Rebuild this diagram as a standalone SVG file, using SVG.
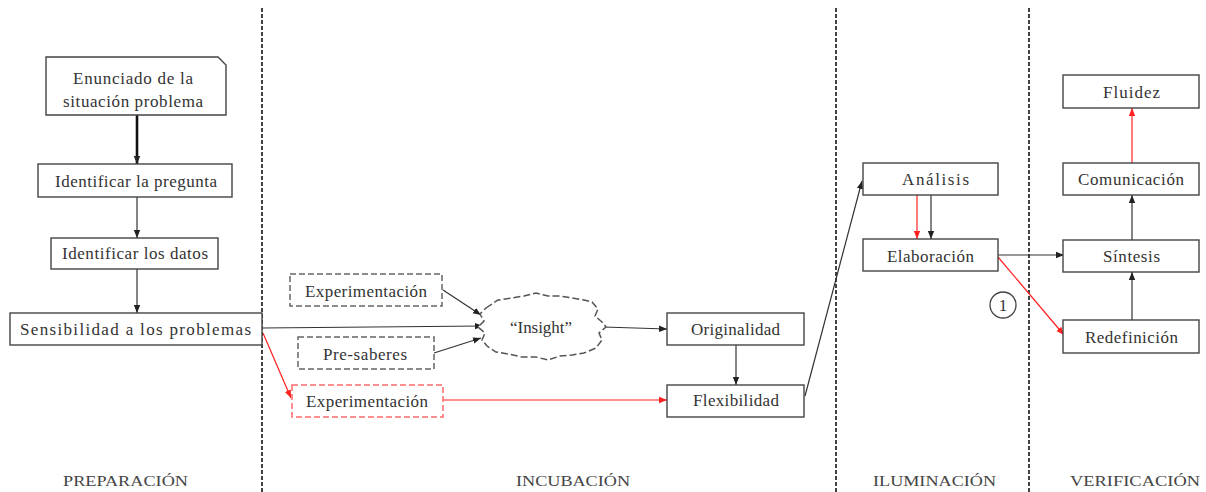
<svg xmlns="http://www.w3.org/2000/svg" width="1206" height="492" viewBox="0 0 1206 492">
  <defs>
    <marker id="ah" markerUnits="userSpaceOnUse" markerWidth="8" markerHeight="8" viewBox="0 0 8 8" refX="8" refY="4" orient="auto">
      <path d="M0,0.8 L8,4 L0,7.2 Z" fill="#222"/>
    </marker>
    <marker id="ahr" markerUnits="userSpaceOnUse" markerWidth="8" markerHeight="8" viewBox="0 0 8 8" refX="8" refY="4" orient="auto">
      <path d="M0,0.8 L8,4 L0,7.2 Z" fill="#ff2020"/>
    </marker>
  </defs>
  <style>
    .box { fill: #fff; stroke: #444; stroke-width: 1.4; }
    .dash { fill: #fff; stroke: #666; stroke-width: 1.5; stroke-dasharray: 6 3; }
    .dashr { fill: #fff; stroke: #ff6a6a; stroke-width: 1.5; stroke-dasharray: 6 3; }
    .t { font-family: "Liberation Serif", "Times New Roman", serif; font-size: 17px; fill: #333; text-anchor: start; }
    .lab { font-family: "Liberation Serif", "Times New Roman", serif; font-size: 15px; fill: #444; }
    .c { fill: none; stroke: #333; stroke-width: 1.2; marker-end: url(#ah); }
    .cr { fill: none; stroke: #ff2020; stroke-width: 1.2; marker-end: url(#ahr); }
    .div { stroke: #222; stroke-width: 1.7; stroke-dasharray: 4 2; }
  </style>

  <!-- stage dividers -->
  <g id="dividers">
    <line class="div" x1="262" y1="8" x2="262" y2="492"/>
    <line class="div" x1="836" y1="8" x2="836" y2="492"/>
    <line class="div" x1="1029" y1="8" x2="1029" y2="492"/>
  </g>

  <!-- stage labels -->
  <g id="stages">
    <text class="lab" x="63" y="486" textLength="125" lengthAdjust="spacingAndGlyphs">PREPARACIÓN</text>
    <text class="lab" x="516" y="486" textLength="114" lengthAdjust="spacingAndGlyphs">INCUBACIÓN</text>
    <text class="lab" x="873" y="486" textLength="123" lengthAdjust="spacingAndGlyphs">ILUMINACIÓN</text>
    <text class="lab" x="1070" y="486" textLength="130" lengthAdjust="spacingAndGlyphs">VERIFICACIÓN</text>
  </g>

  <!-- connectors -->
  <g id="connectors">
    <line x1="137" y1="115" x2="137" y2="164" stroke="#111" stroke-width="2.6" marker-end="url(#ah)"/>
    <line class="c" x1="137" y1="197" x2="137" y2="238" stroke="#777"/>
    <line class="c" x1="137" y1="268" x2="137" y2="313" stroke="#777"/>
    <line class="c" x1="262" y1="328" x2="483" y2="326"/>
    <line class="c" x1="443" y1="290" x2="481" y2="315"/>
    <line class="c" x1="434" y1="353" x2="481" y2="338"/>
    <line class="cr" x1="263" y1="333" x2="291" y2="398"/>
    <line class="cr" x1="443" y1="400" x2="667" y2="400" stroke="#ff6a6a"/>
    <line class="c" x1="603" y1="327" x2="667" y2="329"/>
    <line class="c" x1="736" y1="345" x2="736" y2="385"/>
    <line class="c" x1="805" y1="396" x2="862" y2="181"/>
    <line class="cr" x1="917" y1="195" x2="917" y2="239"/>
    <line class="c" x1="931" y1="195" x2="931" y2="239"/>
    <line class="c" x1="998" y1="255" x2="1064" y2="255"/>
    <line class="cr" x1="998" y1="257" x2="1064" y2="335"/>
    <line class="c" x1="1132" y1="320" x2="1132" y2="272"/>
    <line class="c" x1="1132" y1="240" x2="1132" y2="195"/>
    <line class="cr" x1="1132" y1="163" x2="1132" y2="108" stroke="#ff4040"/>
  </g>

  <!-- preparation -->
  <g id="enunciado">
    <path class="box" d="M46,57 H218 L226,65 V115 H46 Z"/>
    <text class="t" x="73" y="84" textLength="120" lengthAdjust="spacing">Enunciado de la</text>
    <text class="t" x="63" y="107" textLength="140" lengthAdjust="spacing">situación problema</text>
  </g>
  <g id="pregunta">
    <rect class="box" x="38" y="164" width="194" height="33"/>
    <text class="t" x="55" y="187" textLength="162" lengthAdjust="spacing">Identificar la pregunta</text>
  </g>
  <g id="datos">
    <rect class="box" x="51" y="238" width="167" height="31"/>
    <text class="t" x="62" y="259" textLength="146" lengthAdjust="spacing">Identificar los datos</text>
  </g>
  <g id="sensibilidad">
    <rect class="box" x="10" y="313" width="252" height="32"/>
    <text class="t" x="20" y="335" textLength="231" lengthAdjust="spacing">Sensibilidad a los problemas</text>
  </g>

  <!-- incubation -->
  <g id="experimentacion1">
    <rect class="dash" x="290" y="274" width="152" height="32"/>
    <text class="t" x="305" y="297" textLength="122" lengthAdjust="spacing">Experimentación</text>
  </g>
  <g id="presaberes">
    <rect class="dash" x="298" y="337" width="136" height="32" stroke="#444"/>
    <text class="t" x="323" y="360" textLength="84" lengthAdjust="spacing">Pre-saberes</text>
  </g>
  <g id="experimentacion2">
    <rect class="dashr" x="292" y="385" width="151" height="32"/>
    <text class="t" x="306" y="407" textLength="122" lengthAdjust="spacing">Experimentación</text>
  </g>
  <g id="insight">
    <path d="M486,308 L498,300 L512,298 L524,296 L536,293 L548,296 L560,296 L572,298 L584,300 L592,302 L598,309 L595,316 L602,322 L606,327 L599,333 L602,340 L596,348 L584,353 L572,355 L560,356 L548,360 L536,357 L522,357 L508,354 L496,352 L487,346 L482,340 L485,333 L478,327 L484,321 L480,314 Z" fill="#fff" stroke="#555" stroke-width="1.5" stroke-dasharray="7 3"/>
    <text class="t" x="510" y="333" textLength="62" lengthAdjust="spacing">“Insight”</text>
  </g>
  <g id="originalidad">
    <rect class="box" x="667" y="313" width="137" height="32"/>
    <text class="t" x="691" y="335" textLength="89" lengthAdjust="spacing">Originalidad</text>
  </g>
  <g id="flexibilidad">
    <rect class="box" x="667" y="385" width="137" height="32"/>
    <text class="t" x="693" y="406" textLength="86" lengthAdjust="spacing">Flexibilidad</text>
  </g>

  <!-- illumination -->
  <g id="analisis">
    <rect class="box" x="863" y="163" width="135" height="32"/>
    <text class="t" x="902" y="185" textLength="67" lengthAdjust="spacing">Análisis</text>
  </g>
  <g id="elaboracion">
    <rect class="box" x="863" y="239" width="135" height="32"/>
    <text class="t" x="887" y="262" textLength="87" lengthAdjust="spacing">Elaboración</text>
  </g>
  <g id="marca1">
    <circle cx="1003" cy="305" r="13" fill="#fff" stroke="#444" stroke-width="1.3"/>
    <text class="t" x="1003" y="311" style="text-anchor:middle">1</text>
  </g>

  <!-- verification -->
  <g id="fluidez">
    <rect class="box" x="1063" y="75" width="136" height="33"/>
    <text class="t" x="1103" y="98" textLength="57" lengthAdjust="spacing">Fluidez</text>
  </g>
  <g id="comunicacion">
    <rect class="box" x="1063" y="163" width="136" height="32"/>
    <text class="t" x="1078" y="185" textLength="106" lengthAdjust="spacing">Comunicación</text>
  </g>
  <g id="sintesis">
    <rect class="box" x="1063" y="240" width="136" height="32"/>
    <text class="t" x="1103" y="262" textLength="57" lengthAdjust="spacing">Síntesis</text>
  </g>
  <g id="redefinicion">
    <rect class="box" x="1063" y="320" width="136" height="33"/>
    <text class="t" x="1085" y="343" textLength="93" lengthAdjust="spacing">Redefinición</text>
  </g>
</svg>
